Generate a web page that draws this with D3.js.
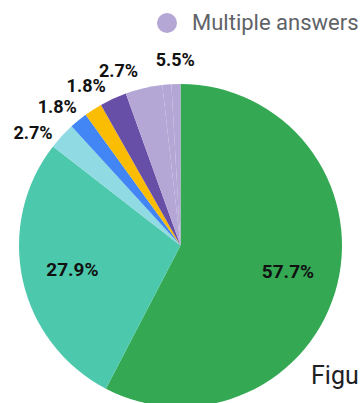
<!DOCTYPE html>
<html>
<head>
<meta charset="utf-8">
<script src="https://cdn.jsdelivr.net/npm/d3@7/dist/d3.min.js"></script>
<style>
  html, body { margin: 0; padding: 0; background: #ffffff; overflow: hidden; }
  svg { display: block; }
</style>
</head>
<body>
<div id="chart"></div>
<script>
// ---- data ----
const categories = ["Option 1", "Option 2", "Option 3", "Option 4", "Option 5", "Option 6", "Multiple answers"];
const values = [57.7, 27.9, 2.7, 1.8, 1.8, 2.7, 5.5];
const colors = ["#34a853", "#4cc8ac", "#90dbe3", "#4285f4", "#fbbc04", "#674ea7", "#b4a7d6"];
// "Multiple answers" slice is drawn as several same-coloured segments
const multipleParts = [3.7, 0.9, 0.9];
const legendItems = ["Multiple answers"];
const captionText = "Figu";

// ---- layout ----
const W = 363, H = 403;
const cx = 180.5, cy = 245.5, R = 161.5;
const innerLabelR = R * 0.685;
const outerLabelR = R * 1.152;
const minSep = 11 * Math.PI / 180;

const svg = d3.select("#chart").append("svg")
  .attr("width", W).attr("height", H)
  .attr("viewBox", `0 0 ${W} ${H}`);

// expand segments
const segments = [];
categories.forEach((c, i) => {
  if (c === "Multiple answers") {
    multipleParts.forEach((v, k) => segments.push({cat: i, value: v, last: k === multipleParts.length - 1}));
  } else {
    segments.push({cat: i, value: values[i], last: true});
  }
});

const pie = d3.pie().sort(null).value(d => d.value).startAngle(0).endAngle(2 * Math.PI);
const arcs = pie(segments);
const arc = d3.arc().innerRadius(0).outerRadius(R);

const g = svg.append("g").attr("transform", `translate(${cx},${cy})`);
g.selectAll("path.slice").data(arcs).enter().append("path")
  .attr("class", "slice")
  .attr("d", arc)
  .attr("fill", d => colors[d.data.cat]);

// label anchors: one per category (last segment of the category)
const fmt = v => v.toFixed(1) + "%";
const labels = arcs.filter(a => a.data.last).map(a => ({
  cat: a.data.cat,
  value: values[a.data.cat],
  angle: (a.startAngle + a.endAngle) / 2,
  inside: values[a.data.cat] >= 10
}));

// relax outside labels so they don't collide
const outside = labels.filter(l => !l.inside).sort((a, b) => a.angle - b.angle);
for (let it = 0; it < 500; it++) {
  for (let i = 0; i < outside.length - 1; i++) {
    const d = outside[i + 1].angle - outside[i].angle;
    if (d < minSep) {
      const p = (minSep - d) / 2;
      outside[i].angle -= p;
      outside[i + 1].angle += p;
    }
  }
}

g.selectAll("text.lbl").data(labels).enter().append("text")
  .attr("class", "lbl")
  .attr("x", d => Math.sin(d.angle) * (d.inside ? innerLabelR : outerLabelR))
  .attr("y", d => -Math.cos(d.angle) * (d.inside ? innerLabelR : outerLabelR))
  .attr("text-anchor", "middle")
  .attr("dominant-baseline", "central")
  .style("font-family", "Roboto, 'Noto Sans', sans-serif")
  .style("font-weight", "bold")
  .style("font-size", d => d.inside ? "19px" : "18px")
  .attr("fill", "#111111")
  .text(d => fmt(d.value));

// legend
const lg = svg.append("g");
legendItems.forEach((name, i) => {
  const ci = categories.indexOf(name);
  lg.append("circle").attr("cx", 167).attr("cy", 23).attr("r", 10).attr("fill", colors[ci]);
  lg.append("text").attr("x", 192).attr("y", 30)
    .style("font-family", "Roboto, 'Noto Sans', sans-serif")
    .style("font-size", "22px")
    .attr("fill", "#5f6368")
    .text(name);
});

// caption (reference shows it cropped at the right edge)
svg.append("text").attr("x", 311).attr("y", 384)
  .style("font-family", "Roboto, 'Noto Sans', sans-serif")
  .style("font-size", "25px")
  .attr("fill", "#202124")
  .text(captionText);
</script>
</body>
</html>
